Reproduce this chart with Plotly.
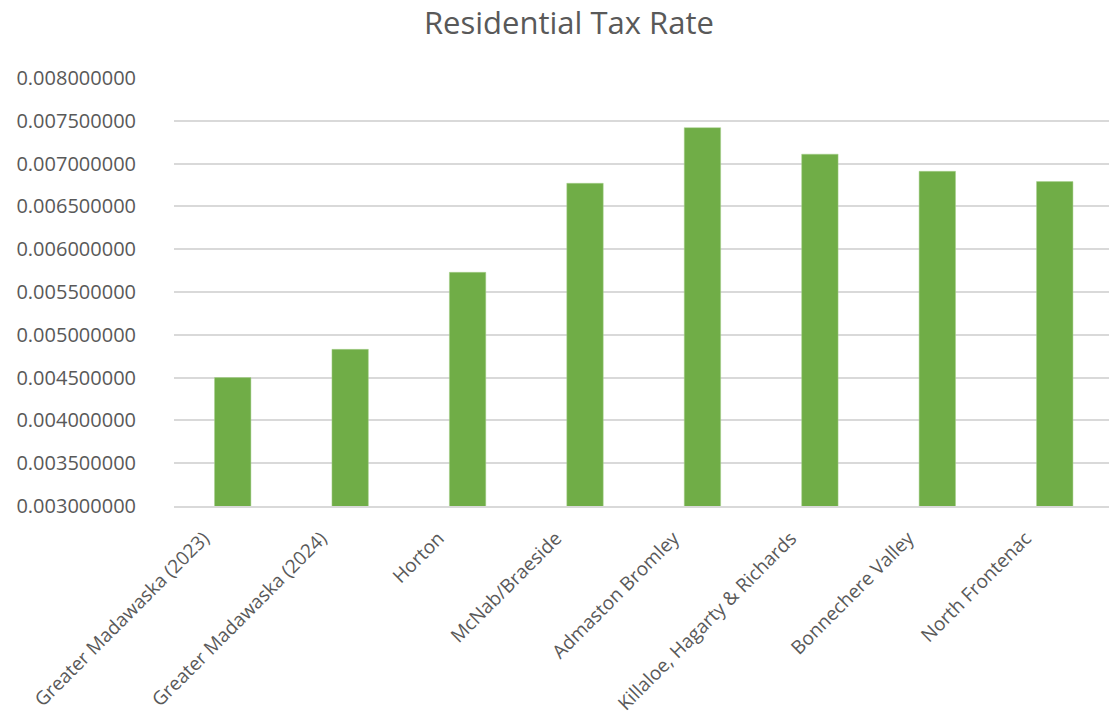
import plotly.graph_objects as go

categories = [
    "Greater Madawaska (2023)",
    "Greater Madawaska (2024)",
    "Horton",
    "McNab/Braeside",
    "Admaston Bromley",
    "Killaloe, Hagarty & Richards",
    "Bonnechere Valley",
    "North Frontenac",
]
tax_rates = [0.00450, 0.00483, 0.00573, 0.00677, 0.00742, 0.00711, 0.00691, 0.00679]
y_ticks = [0.0030, 0.0035, 0.0040, 0.0045, 0.0050, 0.0055, 0.0060, 0.0065, 0.0070, 0.0075, 0.0080]

FONT = "Open Sans"
TEXT = "#595959"
GRID = "#D9D9D9"

fig = go.Figure(
    go.Bar(
        x=list(range(len(categories))),
        y=tax_rates,
        width=0.31,
        marker=dict(color="#70AD47", line=dict(color="#A9D08E", width=0.5)),
    )
)

fig.update_layout(
    width=1109,
    height=726,
    paper_bgcolor="white",
    plot_bgcolor="white",
    margin=dict(l=174, r=0, t=78, b=220),
    showlegend=False,
    title=dict(
        text="Residential Tax Rate",
        x=0.513,
        xanchor="center",
        y=0.968,
        yanchor="middle",
        font=dict(family=FONT, size=31, color=TEXT),
    ),
    font=dict(family=FONT, size=20, color=TEXT),
)

fig.update_xaxes(
    range=[-0.5, 7.462],
    tickmode="array",
    tickvals=list(range(len(categories))),
    ticktext=categories,
    tickangle=-45,
    showgrid=False,
    showline=True,
    linecolor=GRID,
    linewidth=1.5,
    ticks="",
    ticklabelshift=-29,
    ticklabelstandoff=12,
    tickfont=dict(family=FONT, size=19, color=TEXT),
)

fig.update_yaxes(
    range=[0.003, 0.008],
    tickmode="array",
    tickvals=y_ticks,
    tickformat=".9f",
    showgrid=True,
    gridcolor=GRID,
    gridwidth=1.5,
    zeroline=False,
    showline=False,
    ticks="",
    ticklabelstandoff=37,
    tickfont=dict(family=FONT, size=20, color=TEXT),
)

fig.write_html("out.html")
